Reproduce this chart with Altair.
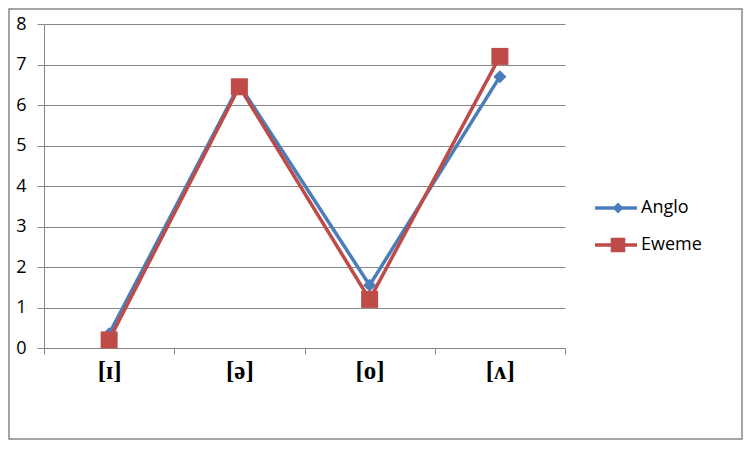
import altair as alt
import pandas as pd

categories = ["[ɪ]", "[ə]", "[o]", "[ʌ]"]
series_names = ["Anglo", "Eweme"]
anglo = [0.35, 6.5, 1.55, 6.7]
eweme = [0.2, 6.45, 1.2, 7.2]
colors = ["#4A7EBB", "#BE4B48"]

rows = []
for i, c in enumerate(categories):
    rows.append({"pos": i + 0.5, "cat": c, "series": "Anglo", "value": anglo[i]})
    rows.append({"pos": i + 0.5, "cat": c, "series": "Eweme", "value": eweme[i]})
df = pd.DataFrame(rows)

W, H = 521, 324
band = W / len(categories)

label_arr = "[" + ",".join("'" + c + "'" for c in categories) + ",'']"

xenc = alt.X(
    "pos:Q",
    scale=alt.Scale(domain=[0, len(categories)], nice=False, zero=False),
    axis=alt.Axis(
        values=list(range(len(categories) + 1)),
        labelExpr=label_arr + "[datum.value]",
        labelOffset=band / 2,
        labelFont="Liberation Serif",
        labelFontWeight="bold",
        labelFontSize=25,
        labelColor="#000000",
        labelPadding=4,
        tickSize=6,
        tickColor="#868686",
        domainColor="#868686",
        grid=False,
        title=None,
        labelFlush=False,
        labelOverlap=False,
    ),
)
yenc = alt.Y(
    "value:Q",
    scale=alt.Scale(domain=[0, 8], nice=False),
    axis=alt.Axis(
        values=list(range(0, 9)),
        labelFont="Open Sans",
        labelFontSize=18,
        labelColor="#000000",
        labelPadding=11,
        tickSize=7,
        tickColor="#868686",
        domainColor="#868686",
        gridColor="#868686",
        title=None,
    ),
)
color = alt.Color("series:N", scale=alt.Scale(domain=series_names, range=colors), legend=None)

base = alt.Chart(df)

border = alt.Chart(pd.DataFrame({"a": [0]})).mark_rect(
    fill="transparent", stroke="#868686", strokeWidth=1.5, clip=False
).encode(
    x=alt.value(-35), x2=alt.value(698), y=alt.value(-15), y2=alt.value(415)
)

lines = base.mark_line(strokeWidth=3.5).encode(x=xenc, y=yenc, color=color, detail="series:N")
pts_a = base.transform_filter(alt.datum.series == "Anglo").mark_point(
    shape="diamond", filled=True, opacity=1, size=170
).encode(x="pos:Q", y="value:Q", color=color)
pts_e = base.transform_filter(alt.datum.series == "Eweme").mark_point(
    shape="square", filled=True, opacity=1, size=289
).encode(x="pos:Q", y="value:Q", color=color)

layers = [border, lines, pts_a, pts_e]

leg_y = [184, 221]
leg_shape = ["diamond", "square"]
leg_size = [120, 210]
for i, name in enumerate(series_names):
    d = pd.DataFrame({"series": [name]})
    layers.append(
        alt.Chart(d).mark_rule(color=colors[i], strokeWidth=3.5).encode(
            x=alt.value(551), x2=alt.value(593), y=alt.value(leg_y[i])
        )
    )
    layers.append(
        alt.Chart(d).mark_point(
            shape=leg_shape[i], filled=True, opacity=1, size=leg_size[i], color=colors[i]
        ).encode(x=alt.value(574), y=alt.value(leg_y[i]))
    )
    layers.append(
        alt.Chart(d).mark_text(
            align="left", baseline="middle", font="Open Sans", fontSize=18, color="#000000"
        ).encode(x=alt.value(597), y=alt.value(leg_y[i]), text="series:N")
    )

chart = alt.layer(*layers).properties(
    width=W,
    height=H,
    padding={"left": 36, "top": 16, "right": 179, "bottom": 92},
    autosize=alt.AutoSizeParams(type="none"),
).configure_view(stroke=None)

chart.save("out.html", embed_options={"renderer": "svg", "actions": False})
